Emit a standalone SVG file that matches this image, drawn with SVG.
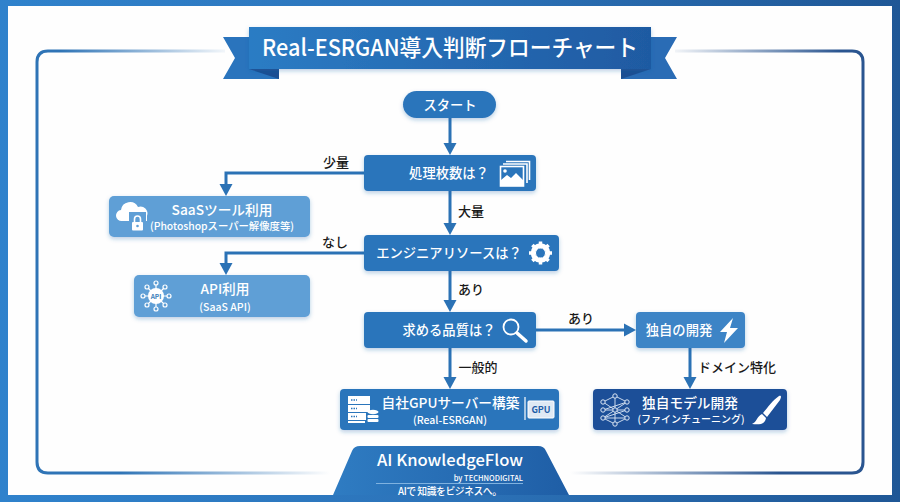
<svg xmlns="http://www.w3.org/2000/svg" width="900" height="502" viewBox="0 0 900 502">
<style>
text{font-family:"Noto Sans CJK JP","Noto Sans",sans-serif;text-anchor:middle}
.w{fill:#fff;font-weight:500}
.q{font-size:13.3px}
.sub{font-size:10.500px}
.big{font-size:13.700px}
.lbl{font-size:13px;font-weight:500;fill:#1a1a1a}
.n1{fill:#2b75bb}.n2{fill:#5f9fd6}.n3{fill:#1f5ea8}
.c{fill:none;stroke:#2b72b5;stroke-width:3}
.ic{fill:none;stroke:#fff;stroke-width:1.6}
.if{fill:#fff}
</style>
<defs>
<marker id="ah" markerUnits="userSpaceOnUse" markerWidth="14" markerHeight="14" refX="6" refY="7" orient="auto"><path d="M0,0.500L12,7L0,13.500Z" fill="#2b72b5"/></marker>
<linearGradient id="bar" gradientUnits="userSpaceOnUse" x1="0" y1="0" x2="900" y2="0"><stop offset="0" stop-color="#2f82cc"/><stop offset=".5" stop-color="#2c73b9"/><stop offset="1" stop-color="#1f5796"/></linearGradient>
<linearGradient id="tb" x1="0" x2="1"><stop offset="0" stop-color="#2c7cc4"/><stop offset="1" stop-color="#1f5aa2"/></linearGradient>
<linearGradient id="fl1" gradientUnits="userSpaceOnUse" x1="60" y1="0" x2="225" y2="0"><stop offset="0" stop-color="#2f74b6"/><stop offset="1" stop-color="#2f74b6" stop-opacity=".06"/></linearGradient>
<linearGradient id="fr1" gradientUnits="userSpaceOnUse" x1="675" y1="0" x2="840" y2="0"><stop offset="0" stop-color="#2a5590" stop-opacity=".06"/><stop offset="1" stop-color="#2a5590"/></linearGradient>
<linearGradient id="fl2" gradientUnits="userSpaceOnUse" x1="120" y1="0" x2="330" y2="0"><stop offset="0" stop-color="#2f74b6"/><stop offset="1" stop-color="#2f74b6" stop-opacity="0"/></linearGradient>
<linearGradient id="fr2" gradientUnits="userSpaceOnUse" x1="570" y1="0" x2="780" y2="0"><stop offset="0" stop-color="#2a5590" stop-opacity="0"/><stop offset="1" stop-color="#2a5590"/></linearGradient>
<linearGradient id="ft" x1="0" x2="1"><stop offset="0" stop-color="#2f7cc2"/><stop offset="1" stop-color="#1f5ea6"/></linearGradient>
<filter id="s" x="-10%" y="-20%" width="120%" height="150%"><feDropShadow dx="0" dy="2" stdDeviation="2" flood-color="#1f5ea8" flood-opacity=".3"/></filter>
</defs>
<rect width="900" height="502" fill="#fefefe"/>
<path id="border" d="M0,0H900V502H0ZM8,6V495H892V6Z" fill="url(#bar)" fill-rule="evenodd"/>
<g id="frame" fill="none" stroke-width="3">
<path d="M60,51H48Q37,51 37,62V462Q37,473 48,473H120" stroke="#2f74b6"/>
<path d="M60,51H225" stroke="url(#fl1)"/>
<path d="M120,473H330" stroke="url(#fl2)"/>
<path d="M840,51H852Q863,51 863,62V462Q863,473 852,473H780" stroke="#2a5590"/>
<path d="M675,51H840" stroke="url(#fr1)"/>
<path d="M570,473H780" stroke="url(#fr2)"/>
</g>
<g id="title">
<path d="M249,37H223L235,58L223,79H279V69H249Z" fill="#2a74bd"/>
<path d="M651,37H677L665,58L677,79H621V69H651Z" fill="#2a6cb5"/>
<path d="M249,69H279V79Z" fill="#1c4f92"/>
<path d="M651,69H621V79Z" fill="#1c4f92"/>
<rect x="249" y="27" width="402" height="42" fill="url(#tb)" filter="url(#s)"/>
<text x="450" y="56" class="w" style="font-size:23px;font-weight:500" textLength="376" lengthAdjust="spacingAndGlyphs">Real-ESRGAN導入判断フローチャート</text>
</g>
<g id="connectors">
<path class="c" marker-end="url(#ah)" d="M450,118V149"/>
<path class="c" marker-end="url(#ah)" d="M450,191V229"/>
<path class="c" marker-end="url(#ah)" d="M450,271V306"/>
<path class="c" marker-end="url(#ah)" d="M450,348V383"/>
<path class="c" marker-end="url(#ah)" d="M364,173H226V190"/>
<path class="c" marker-end="url(#ah)" d="M364,253H226V269"/>
<path class="c" marker-end="url(#ah)" d="M536,330H630"/>
<path class="c" marker-end="url(#ah)" d="M690,348V383"/>
</g>
<g id="labels">
<text class="lbl" x="336" y="167">少量</text>
<text class="lbl" x="471" y="216">大量</text>
<text class="lbl" x="335" y="247">なし</text>
<text class="lbl" x="471" y="294">あり</text>
<text class="lbl" x="581" y="323">あり</text>
<text class="lbl" x="478" y="372">一般的</text>
<text class="lbl" x="737" y="372">ドメイン特化</text>
</g>
<g id="start">
<rect class="n1" x="403" y="91" width="93" height="27" rx="13.5" filter="url(#s)"/>
<text class="w q" x="450" y="110">スタート</text>
</g>
<g id="q1">
<rect class="n1" x="364" y="155" width="172" height="36" rx="4" filter="url(#s)"/>
<text class="w q" x="449" y="178">処理枚数は？</text>
<path class="ic" d="M506,161.500H529.500V180M503,164H527V183"/>
<rect class="ic" x="500.500" y="166.500" width="23" height="19.500"/>
<path class="if" d="M501,186V180L507,175L511,178L516,173L523,180V186Z"/>
<circle class="if" cx="505" cy="171" r="1.800"/>
</g>
<g id="q2">
<rect class="n1" x="364" y="235" width="195" height="36" rx="4" filter="url(#s)"/>
<text class="w q" x="449" y="258">エンジニアリソースは？</text>
<circle cx="540.500" cy="253" r="7.500" fill="none" stroke="#fff" stroke-width="4.500"/>
<path d="M540.500,241.500V264.500M529,253H552M532.400,244.900L548.600,261.100M548.600,244.900L532.400,261.100" stroke="#fff" stroke-width="3.500"/>
<circle cx="540.500" cy="253" r="4.500" fill="#2b75bb"/>
</g>
<g id="q3">
<rect class="n1" x="364" y="312" width="172" height="36" rx="4" filter="url(#s)"/>
<text class="w q" x="449" y="335">求める品質は？</text>
<circle cx="511" cy="327" r="7.500" fill="none" stroke="#fff" stroke-width="1.800"/>
<path d="M517,333L526,341" stroke="#fff" stroke-width="3.500" stroke-linecap="round"/>
</g>
<g id="saas">
<rect class="n2" x="109" y="196" width="201" height="41" rx="5" filter="url(#s)"/>
<text class="w big" x="222" y="215">SaaSツール利用</text>
<text class="w sub" x="222" y="230" textLength="144" lengthAdjust="spacingAndGlyphs">(Photoshopスーパー解像度等)</text>
<path class="if" d="M122,221a5.500,5.500,0 0,1 -1,-11a9,9 0 0,1 17,-3a7,7 0 0,1 9,9v5Z"/>
<rect fill="#5f9fd6" x="129" y="212" width="17" height="20"/>
<path d="M134.500,222v-3a3,3 0 0,1 6,0v3" fill="none" stroke="#fff" stroke-width="1.600"/>
<rect class="if" x="132" y="222" width="11" height="8.500" rx="1"/>
<circle cx="137.500" cy="226" r="1.300" fill="#5f9fd6"/>
</g>
<g id="api">
<rect class="n2" x="134" y="275" width="176" height="42" rx="5" filter="url(#s)"/>
<text class="w big" x="225" y="294">API利用</text>
<text class="w sub" x="225" y="311">(SaaS API)</text>
<path d="M156,296V284M156,296V308M156,296H144M156,296H168M156,296L147,287M156,296L165,287M156,296L147,305M156,296L165,305" stroke="#fff" stroke-width="1.200"/>
<g class="ic" style="stroke-width:1.200;fill:#5f9fd6"><circle cx="156" cy="283" r="2"/><circle cx="156" cy="309" r="2"/><circle cx="143" cy="296" r="2"/><circle cx="169" cy="296" r="2"/><circle cx="147" cy="287" r="2"/><circle cx="165" cy="287" r="2"/><circle cx="147" cy="305" r="2"/><circle cx="165" cy="305" r="2"/></g>
<circle class="if" cx="156" cy="296" r="8"/>
<text x="156" y="298.500" style="font-size:6.500px;font-weight:700;fill:#3d7fbb">API</text>
</g>
<g id="gpu">
<rect class="n1" x="340" y="389" width="219" height="41" rx="4" filter="url(#s)"/>
<text class="w big" x="450.500" y="408">自社GPUサーバー構築</text>
<text class="w sub" x="450" y="424">(Real-ESRGAN)</text>
<rect class="if" x="348" y="396" width="22" height="8"/><rect class="if" x="348" y="405" width="22" height="7"/><rect class="if" x="348" y="413" width="18" height="7"/>
<path class="if" d="M348,421H365V423H348Z"/>
<ellipse class="if" cx="373" cy="412" rx="5.500" ry="2.200"/><rect class="if" x="367.500" y="415" width="11" height="3" rx="1"/><rect class="if" x="367.500" y="419" width="11" height="3" rx="1"/>
<path d="M351,400H357M351,408.500H357M351,416.500H357" stroke="#2b75bb" stroke-width="1.500" stroke-dasharray="1.500 1"/>
<path class="ic" d="M525,397V420" style="stroke-width:1.200"/>
<rect x="528" y="401" width="26" height="17" rx="1" fill="#dfe9f4" stroke="#fff"/>
<text x="541" y="412.500" style="font-size:9px;font-weight:700;fill:#1f5ea8">GPU</text>
</g>
<g id="unique">
<rect fill="#3d84c6" x="636" y="312" width="109" height="36" rx="4" filter="url(#s)"/>
<text class="w q" x="679" y="335">独自の開発</text>
<path class="if" d="M733,318L720,332H727L724,343L738,328H730Z"/>
</g>
<g id="custom">
<rect fill="#1f4f98" x="593" y="389" width="194" height="41" rx="4" filter="url(#s)"/>
<text class="w big" x="690" y="408">独自モデル開発</text>
<text class="w" x="691" y="423" style="font-size:10px">(ファインチューニング)</text>
<path d="M603,402L615,396L627,402L603,410L627,410L603,418L627,418L615,424L603,418M615,396V424M603,402L627,418M627,402L603,418" fill="none" stroke="#dce8f5" stroke-width=".9"/>
<g fill="#1f4f98" stroke="#dce8f5" stroke-width="1"><circle cx="603" cy="402" r="2.200"/><circle cx="603" cy="410" r="2.200"/><circle cx="603" cy="418" r="2.200"/><circle cx="627" cy="402" r="2.200"/><circle cx="627" cy="410" r="2.200"/><circle cx="627" cy="418" r="2.200"/><circle cx="615" cy="396" r="2.200"/><circle cx="615" cy="410" r="2.200"/><circle cx="615" cy="424" r="2.200"/></g>
<path class="if" d="M779,396C782,395 781,398 780,400L767,417L763,413C768,407 773,400 779,396Z"/>
<path class="if" d="M762,414L766,418C765,424 760,425 752,424C757,422 757,416 762,414Z"/>
</g>
<g id="footer">
<path d="M333,495L352,451Q354,446 360,446H538Q544,446 546,451L569,495Z" fill="url(#ft)"/>
<text class="w" x="450" y="466" style="font-size:15.500px;font-weight:500" textLength="146" lengthAdjust="spacingAndGlyphs">AI KnowledgeFlow</text>
<text class="w" x="523" y="481" style="font-size:7.500px;text-anchor:end">by TECHNODIGITAL</text>
<path d="M376,483.500H523" stroke="#7fb2e0" stroke-width="1"/>
<text class="w" x="450" y="495" style="font-size:9.800px" textLength="104">AIで 知識をビジネスへ。</text>
</g>
</svg>
